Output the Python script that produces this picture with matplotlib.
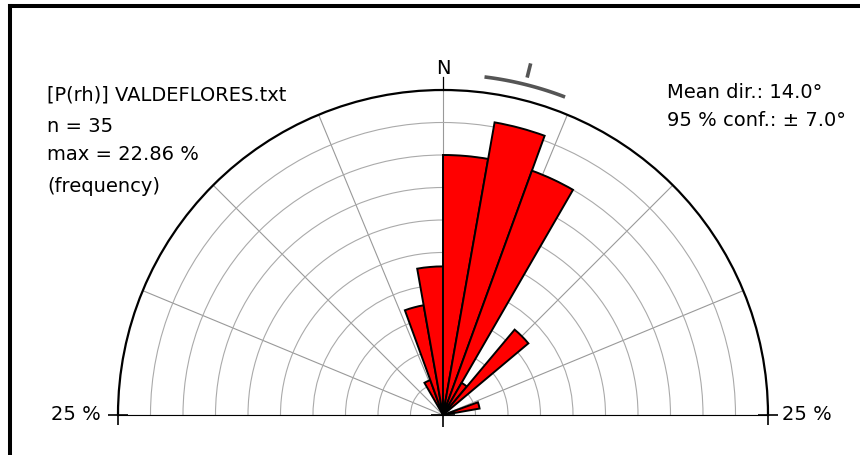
"""
Half rose diagram (0-180 style, N at top) of P(rh) directions, VALDEFLORES.
"""
import matplotlib
matplotlib.use("Agg")
import matplotlib.pyplot as plt
from matplotlib.lines import Line2D
import numpy as np

# bin centres (deg, clockwise from N) and counts per 10 deg bin
bin_centers = [-25, -15, -5, 5, 15, 25, 35, 45, 75]
counts = [1, 3, 4, 7, 8, 7, 1, 3, 1]
bin_width = 10

n_total = 35
mean_dir = 14.0
conf95 = 7.0
r_max = 25  # outer circle, percent

W, H = 860, 455
CX, CY, R = 443, 415, 325  # centre and radius in pixels


def fx(px):
    return px / W


def fy(py):
    return 1 - py / H


def main():
    freq = np.array(counts) / n_total * 100
    theta = np.radians(bin_centers)

    fig = plt.figure(figsize=(W / 100, H / 100), dpi=100)
    # polar axes keep a square box; the half disc sits in the middle of it
    box_bottom = (H - CY) + R / 2 - R
    ax = fig.add_axes([fx(CX - R), box_bottom / H, 2 * R / W, 2 * R / H],
                      projection="polar")
    ax.set_theta_zero_location("N")
    ax.set_theta_direction(-1)
    ax.set_thetamin(-90)
    ax.set_thetamax(90)
    ax.set_ylim(0, r_max)

    ax.set_rgrids(np.arange(2.5, r_max, 2.5), labels=[])
    ax.set_thetagrids(np.arange(-90, 90.1, 22.5), labels=[])
    ax.yaxis.grid(True, color="#aaaaaa", lw=0.8)
    ax.xaxis.grid(True, color="#999999", lw=0.8)
    ax.tick_params(length=0)
    ax.set_axisbelow(True)

    ax.spines["polar"].set_color("black")
    ax.spines["polar"].set_linewidth(1.6)
    ax.spines["start"].set_visible(False)
    ax.spines["end"].set_visible(False)
    ax.spines["inner"].set_visible(False)

    ax.bar(theta, freq, width=np.radians(bin_width), bottom=0,
           color="red", edgecolor="black", linewidth=1.4, zorder=3)

    # confidence arc and mean direction mark
    arc = np.radians(np.linspace(mean_dir - conf95, mean_dir + conf95, 60))
    ax.plot(arc, np.full_like(arc, r_max * 1.048), color="#555555", lw=2.6,
            clip_on=False, solid_capstyle="butt")
    ax.plot([np.radians(mean_dir)] * 2, [r_max * 1.07, r_max * 1.115],
            color="#555555", lw=2.6, clip_on=False, solid_capstyle="butt")

    # N line and label
    ax.plot([0, 0], [r_max, r_max * 1.04], color="black", lw=0.9, clip_on=False)
    ax.text(0, r_max * 1.066, "N", ha="center", va="center", fontsize=14)

    # crosses at the ends and centre of the baseline
    ax.plot(np.radians([-90, 90]), [r_max, r_max], "+", color="black",
            ms=15, mew=1.2, clip_on=False, zorder=5)
    ax.plot([0], [0], "+", color="black", ms=17, mew=1.2, clip_on=False, zorder=5)

    fig.text(fx(101), fy(415), "25 %", ha="right", va="center", fontsize=14)
    fig.text(fx(782), fy(415), "25 %", ha="left", va="center", fontsize=14)

    fig.text(fx(47), fy(95), "[P(rh)] VALDEFLORES.txt", ha="left", va="center", fontsize=14)
    fig.text(fx(47), fy(127), f"n = {n_total}", ha="left", va="center", fontsize=14)
    fig.text(fx(47), fy(154), f"max = {freq.max():.2f} %", ha="left", va="center", fontsize=14)
    fig.text(fx(47), fy(186), "(frequency)", ha="left", va="center", fontsize=14)

    fig.text(fx(667), fy(93), f"Mean dir.: {mean_dir:.1f}°", ha="left", va="center", fontsize=14)
    fig.text(fx(667), fy(120), f"95 % conf.: ± {conf95:.1f}°", ha="left", va="center", fontsize=14)

    # frame (left and top edges only, rest is cropped)
    fig.add_artist(Line2D([fx(10), fx(10)], [0, fy(6)], color="black", lw=2.9))
    fig.add_artist(Line2D([fx(10), 1], [fy(6), fy(6)], color="black", lw=2.9))

    fig.savefig("out.png", dpi=100)
    plt.close(fig)


if __name__ == "__main__":
    main()
